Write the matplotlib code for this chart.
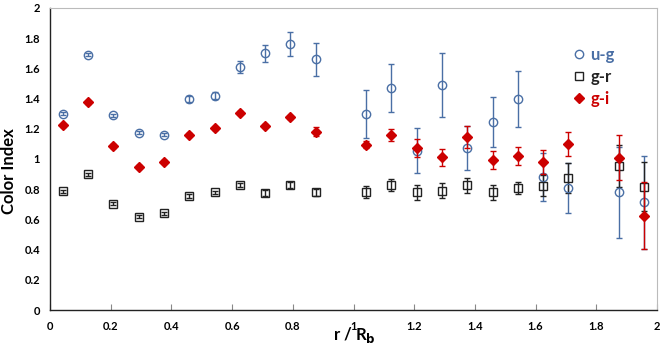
import matplotlib
matplotlib.use("Agg")
import matplotlib.pyplot as plt
from matplotlib.lines import Line2D

plt.rcParams['font.family'] = ['Lato', 'DejaVu Sans']

r = [0.042, 0.125, 0.208, 0.292, 0.375, 0.458, 0.542, 0.625, 0.708, 0.792, 0.875,
     1.042, 1.125, 1.208, 1.292, 1.375, 1.458, 1.542, 1.625, 1.708, 1.875, 1.958]

ug = [1.30, 1.69, 1.29, 1.174, 1.16, 1.40, 1.42, 1.61, 1.70, 1.764, 1.66,
      1.30, 1.47, 1.055, 1.49, 1.07, 1.247, 1.397, 0.883, 0.81, 0.78, 0.713]
ug_err = [0.01, 0.01, 0.01, 0.01, 0.01, 0.02, 0.025, 0.04, 0.055, 0.08, 0.11,
          0.16, 0.16, 0.147, 0.21, 0.146, 0.166, 0.186, 0.16, 0.165, 0.30, 0.31]

gr = [0.788, 0.90, 0.704, 0.618, 0.642, 0.755, 0.779, 0.828, 0.777, 0.828, 0.779,
      0.781, 0.828, 0.781, 0.79, 0.826, 0.781, 0.81, 0.823, 0.872, 0.955, 0.817]
gr_err = [0.01, 0.01, 0.01, 0.01, 0.01, 0.01, 0.01, 0.015, 0.02, 0.02, 0.025,
          0.04, 0.04, 0.05, 0.05, 0.05, 0.05, 0.04, 0.07, 0.10, 0.14, 0.16]

gi = [1.225, 1.375, 1.086, 0.949, 0.982, 1.159, 1.203, 1.307, 1.219, 1.276, 1.179,
      1.095, 1.159, 1.073, 1.011, 1.146, 0.993, 1.022, 0.978, 1.099, 1.009, 0.625]
gi_err = [0.01, 0.01, 0.01, 0.01, 0.01, 0.01, 0.01, 0.01, 0.01, 0.01, 0.03,
          0.025, 0.04, 0.06, 0.055, 0.07, 0.06, 0.06, 0.08, 0.08, 0.15, 0.22]

xticks = [0, 0.2, 0.4, 0.6, 0.8, 1, 1.2, 1.4, 1.6, 1.8, 2]
yticks = [0, 0.2, 0.4, 0.6, 0.8, 1, 1.2, 1.4, 1.6, 1.8, 2]

blue = '#4a6fa5'
red = '#cc0000'
black = '#222222'

fig = plt.figure(figsize=(6.64, 3.47), dpi=100)
ax = fig.add_axes([0.0753, 0.1066, 0.9142, 0.8704])

ax.errorbar(r, ug, yerr=ug_err, fmt='o', ms=6, mfc='none', mec=blue, mew=1.0,
            ecolor=blue, elinewidth=1.0, capsize=2, capthick=1.0, zorder=3)
ax.errorbar(r, gr, yerr=gr_err, fmt='s', ms=6, mfc='none', mec=black, mew=1.0,
            ecolor=black, elinewidth=1.0, capsize=2, capthick=1.0, zorder=3)
ax.errorbar(r, gi, yerr=gi_err, fmt='D', ms=5, mfc=red, mec=red, mew=1.0,
            ecolor=red, elinewidth=1.0, capsize=2, capthick=1.0, zorder=4)

ax.set_xlim(0, 2)
ax.set_ylim(0, 2)
ax.set_xticks(xticks)
ax.set_yticks(yticks)
ax.set_xticklabels([f"{t:g}" for t in xticks], fontsize=8, fontweight='bold')
ax.set_yticklabels([f"{t:g}" for t in yticks], fontsize=8, fontweight='bold')
ax.tick_params(axis='x', direction='in', length=4, color='#888888', pad=8)
ax.tick_params(axis='y', length=0, pad=7)

for s in ['top', 'right']:
    ax.spines[s].set_color('#bbbbbb')
    ax.spines[s].set_linewidth(0.8)
for s in ['left', 'bottom']:
    ax.spines[s].set_color('#222222')
    ax.spines[s].set_linewidth(1.0)

ax.set_ylabel('Color Index', fontsize=12, fontweight='bold')
ax.yaxis.set_label_coords(-0.054, 0.46)
ax.set_xlabel(r'r / R$_\mathbf{b}$', fontsize=12, fontweight='bold')
ax.xaxis.label.set_verticalalignment('baseline')
ax.xaxis.set_label_coords(0.502, -0.100)

handles = [
    Line2D([], [], marker='o', ls='none', ms=6, mfc='none', mec=blue, mew=1.0),
    Line2D([], [], marker='s', ls='none', ms=6, mfc='none', mec=black, mew=1.0),
    Line2D([], [], marker='D', ls='none', ms=5, mfc=red, mec=red),
]
leg = ax.legend(handles, ['u-g', 'g-r', 'g-i'], loc='upper right',
                bbox_to_anchor=(0.955, 0.92), frameon=False,
                prop={'size': 12, 'weight': 'bold'}, handletextpad=0.3,
                handlelength=0.8, labelspacing=0.35)
for txt, col in zip(leg.get_texts(), [blue, black, red]):
    txt.set_color(col)

fig.savefig('out.png', dpi=100)
